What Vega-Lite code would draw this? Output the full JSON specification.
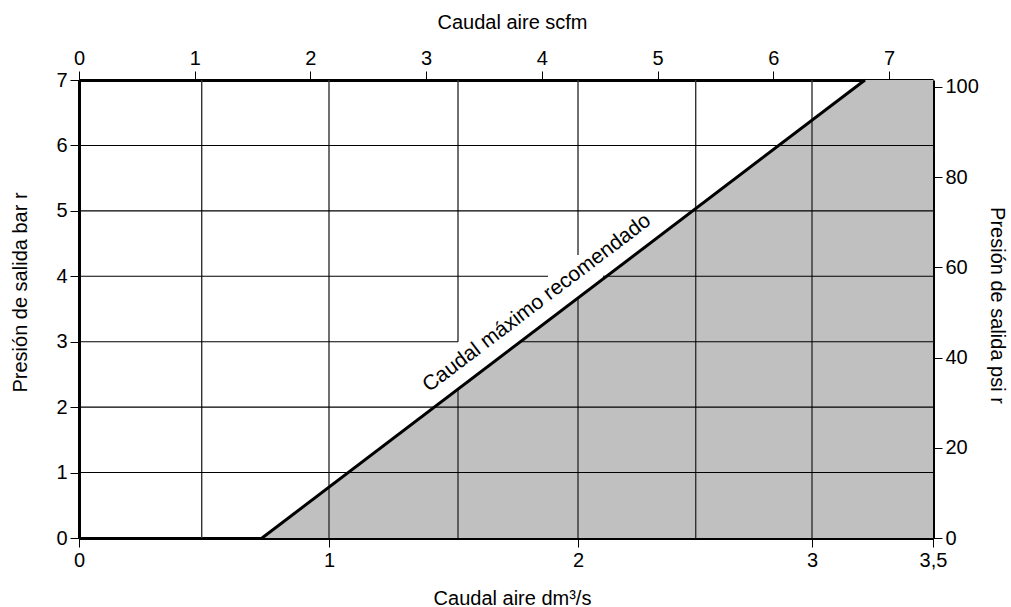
{
  "$schema": "https://vega.github.io/schema/vega-lite/v6.json",
  "width": 854,
  "height": 458,
  "autosize": {"type": "none"},
  "padding": {"left": 79, "top": 80, "right": 78, "bottom": 69},
  "background": "white",
  "config": {
    "view": {"stroke": null},
    "axis": {
      "labelFont": "Liberation Sans",
      "titleFont": "Liberation Sans",
      "labelFontSize": 20,
      "titleFontSize": 20,
      "titleFontWeight": "normal",
      "labelColor": "black",
      "titleColor": "black",
      "domainColor": "black",
      "domainWidth": 3,
      "tickColor": "black",
      "tickWidth": 1,
      "tickSize": 9,
      "labelPadding": 3,
      "labelFlush": false,
      "labelOverlap": false,
      "grid": false,
      "zindex": 1
    }
  },
  "datasets": {
    "zone": [
      {"dm3s": 0.737, "bar": 0},
      {"dm3s": 3.219, "bar": 7},
      {"dm3s": 3.5, "bar": 7}
    ],
    "vgrid": [
      {"dm3s": 0.5, "bar": 0, "bar2": 7},
      {"dm3s": 1, "bar": 0, "bar2": 7},
      {"dm3s": 1.5, "bar": 3, "bar2": 7},
      {"dm3s": 1.5, "bar": 0, "bar2": 2.277},
      {"dm3s": 2, "bar": 4.325, "bar2": 7},
      {"dm3s": 2, "bar": 0, "bar2": 3.668},
      {"dm3s": 2.5, "bar": 0, "bar2": 7},
      {"dm3s": 3, "bar": 0, "bar2": 7}
    ],
    "hgrid": [
      {"bar": 1, "dm3s": 0, "dm3s2": 3.5},
      {"bar": 2, "dm3s": 0, "dm3s2": 3.5},
      {"bar": 3, "dm3s": 0, "dm3s2": 1.5},
      {"bar": 3, "dm3s": 1.754, "dm3s2": 3.5},
      {"bar": 4, "dm3s": 0, "dm3s2": 1.875},
      {"bar": 4, "dm3s": 2.106, "dm3s2": 3.5},
      {"bar": 5, "dm3s": 0, "dm3s2": 3.5},
      {"bar": 6, "dm3s": 0, "dm3s2": 3.5}
    ],
    "limit": [
      {"dm3s": 0.737, "bar": 0, "dm3s2": 3.219, "bar2": 7}
    ],
    "label": [
      {"dm3s": 1.829, "bar": 3.59, "text": "Caudal máximo recomendado"}
    ],
    "scfm": [{"scfm": 0}, {"scfm": 7}],
    "psi": [{"psi": 0}, {"psi": 100}]
  },
  "layer": [
    {
      "layer": [
        {
          "data": {"name": "zone"},
          "mark": {"type": "area", "color": "#c0c0c0", "opacity": 1},
          "encoding": {
            "x": {
              "field": "dm3s",
              "type": "quantitative",
              "title": "Caudal aire dm³/s",
              "scale": {
                "domain": [0, 0.5, 1, 1.5, 2, 2.5, 3, 3.5],
                "range": [0, 122.7, 250, 379, 499, 616.7, 733, 854],
                "nice": false,
                "zero": false
              },
              "axis": {
                "orient": "bottom",
                "values": [0, 1, 2, 3, 3.5],
                "format": "~g",
                "labelExpr": "replace(datum.label, '.', ',')",
                "titleX": 433,
                "titleY": 60,
                "titleAlign": "center",
                "titleBaseline": "middle"
              }
            },
            "y": {
              "field": "bar",
              "type": "quantitative",
              "title": "Presión de salida bar r",
              "scale": {"domain": [0, 7], "nice": false, "zero": false},
              "axis": {
                "orient": "left",
                "values": [0, 1, 2, 3, 4, 5, 6, 7],
                "format": "d",
                "titleX": -59,
                "titleY": 212,
                "titleAngle": -90,
                "titleAlign": "center",
                "titleBaseline": "middle"
              }
            },
            "y2": {"datum": 0}
          }
        },
        {
          "data": {"name": "vgrid"},
          "mark": {"type": "rule", "color": "#333333", "strokeWidth": 1.4},
          "encoding": {
            "x": {"field": "dm3s", "type": "quantitative"},
            "y": {"field": "bar", "type": "quantitative"},
            "y2": {"field": "bar2"}
          }
        },
        {
          "data": {"name": "hgrid"},
          "mark": {"type": "rule", "color": "black", "strokeWidth": 1.1},
          "encoding": {
            "x": {"field": "dm3s", "type": "quantitative"},
            "x2": {"field": "dm3s2"},
            "y": {"field": "bar", "type": "quantitative"}
          }
        },
        {
          "data": {"name": "limit"},
          "mark": {"type": "rule", "color": "black", "strokeWidth": 3},
          "encoding": {
            "x": {"field": "dm3s", "type": "quantitative"},
            "x2": {"field": "dm3s2"},
            "y": {"field": "bar", "type": "quantitative"},
            "y2": {"field": "bar2"}
          }
        },
        {
          "data": {"name": "label"},
          "mark": {
            "type": "text",
            "font": "Liberation Sans",
            "fontSize": 21,
            "angle": 322.8,
            "align": "center",
            "baseline": "middle",
            "color": "black"
          },
          "encoding": {
            "x": {"field": "dm3s", "type": "quantitative"},
            "y": {"field": "bar", "type": "quantitative"},
            "text": {"field": "text"}
          }
        }
      ]
    },
    {
      "data": {"name": "scfm"},
      "mark": {"type": "point", "opacity": 0},
      "encoding": {
        "x": {
          "field": "scfm",
          "type": "quantitative",
          "title": "Caudal aire scfm",
          "scale": {"domain": [0, 7.38], "nice": false, "zero": false},
          "axis": {
            "orient": "top",
            "values": [0, 1, 2, 3, 4, 5, 6, 7],
            "format": "d",
            "titleX": 433,
            "titleY": -58,
            "titleAlign": "center",
            "titleBaseline": "middle"
          }
        }
      }
    },
    {
      "data": {"name": "psi"},
      "mark": {"type": "point", "opacity": 0},
      "encoding": {
        "y": {
          "field": "psi",
          "type": "quantitative",
          "title": "Presión de salida psi r",
          "scale": {"domain": [0, 101.5], "nice": false, "zero": false},
          "axis": {
            "orient": "right",
            "values": [0, 20, 40, 60, 80, 100],
            "format": "d",
            "titleX": 63,
            "titleY": 225,
            "titleAngle": 90,
            "titleAlign": "center",
            "titleBaseline": "middle"
          }
        }
      }
    }
  ],
  "resolve": {"scale": {"x": "independent", "y": "independent"}}
}
